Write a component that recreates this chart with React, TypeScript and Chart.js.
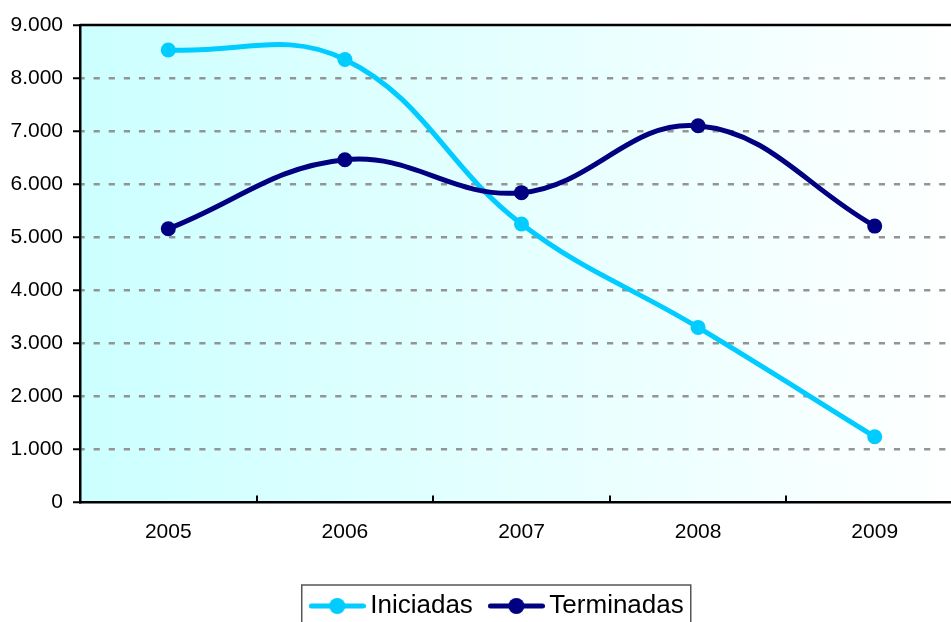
import React, { useEffect, useRef } from "react";
import { Chart, registerables } from "chart.js";

Chart.register(...registerables);

const categories = ["2005", "2006", "2007", "2008", "2009"];
const iniciadas = [8530, 8350, 5250, 3300, 1240];
const terminadas = [5160, 6460, 5840, 7100, 5210];
const seriesNames = ["Iniciadas", "Terminadas"];
const seriesColors = ["#00CCFF", "#000080"];
const yMin = 0;
const yMax = 9000;
const yStep = 1000;

const CANVAS_W = 1001;
const CANVAS_H = 629;

function formatThousands(v: number): string {
  return String(Math.round(v)).replace(/\B(?=(\d{3})+(?!\d))/g, ".");
}

function makeLegendImage(color: string): HTMLCanvasElement {
  const c = document.createElement("canvas");
  c.width = 57;
  c.height = 18;
  const ctx = c.getContext("2d")!;
  ctx.strokeStyle = color;
  ctx.lineWidth = 5;
  ctx.lineCap = "round";
  ctx.beginPath();
  ctx.moveTo(2.5, 9);
  ctx.lineTo(54.5, 9);
  ctx.stroke();
  ctx.fillStyle = color;
  ctx.beginPath();
  ctx.arc(28.5, 9, 8, 0, Math.PI * 2);
  ctx.fill();
  return c;
}

const decorPlugin = {
  id: "decor",
  beforeDraw(chart: any) {
    const { ctx, chartArea } = chart;
    if (!chartArea) return;
    const g = ctx.createLinearGradient(chartArea.left, 0, chartArea.right, 0);
    g.addColorStop(0, "#CCFFFF");
    g.addColorStop(1, "#FFFFFF");
    ctx.save();
    ctx.fillStyle = g;
    ctx.fillRect(chartArea.left, chartArea.top, chartArea.right - chartArea.left, chartArea.bottom - chartArea.top);
    ctx.restore();
  },
  beforeDatasetsDraw(chart: any) {
    const { ctx, chartArea } = chart;
    const xs = chart.scales.x;
    ctx.save();
    ctx.strokeStyle = "#000";
    ctx.lineWidth = 2.5;
    ctx.beginPath();
    ctx.moveTo(chartArea.left, chartArea.top);
    ctx.lineTo(chartArea.right, chartArea.top);
    ctx.stroke();
    ctx.lineWidth = 2;
    for (let i = 0; i < categories.length - 1; i++) {
      const px = Math.round((xs.getPixelForValue(i) + xs.getPixelForValue(i + 1)) / 2);
      ctx.beginPath();
      ctx.moveTo(px, chartArea.bottom - 7);
      ctx.lineTo(px, chartArea.bottom);
      ctx.stroke();
    }
    ctx.restore();
  },
  afterDraw(chart: any) {
    const hb = chart.legend && chart.legend.legendHitBoxes;
    if (!hb || !hb.length) return;
    const { ctx } = chart;
    const first = hb[0];
    const last = hb[hb.length - 1];
    const left = first.left - 8.5 - 7;
    const right = last.left + last.width + 7;
    const top = first.top - 8;
    ctx.save();
    ctx.strokeStyle = "#555";
    ctx.lineWidth = 1.5;
    ctx.strokeRect(left, top, right - left, chart.height + 20 - top);
    ctx.restore();
  },
};

export default function App() {
  const canvasRef = useRef<HTMLCanvasElement | null>(null);

  useEffect(() => {
    if (!canvasRef.current) return;
    Chart.defaults.font.family = "'Liberation Sans', Arial, sans-serif";
    const images = seriesColors.map((c) => makeLegendImage(c));
    const chart = new Chart(canvasRef.current, {
      type: "line",
      data: {
        labels: categories,
        datasets: [
          {
            label: seriesNames[0],
            data: iniciadas,
            borderColor: seriesColors[0],
            backgroundColor: seriesColors[0],
            pointBackgroundColor: seriesColors[0],
            pointBorderWidth: 0,
            pointRadius: 7.5,
            borderWidth: 5,
            tension: 0.4,
            fill: false,
            order: 1,
          },
          {
            label: seriesNames[1],
            data: terminadas,
            borderColor: seriesColors[1],
            backgroundColor: seriesColors[1],
            pointBackgroundColor: seriesColors[1],
            pointBorderWidth: 0,
            pointRadius: 7.5,
            borderWidth: 5,
            tension: 0.4,
            fill: false,
            order: 0,
          },
        ],
      },
      options: {
        responsive: false,
        animation: false,
        layout: { padding: { top: 25, left: 0, right: 0, bottom: 0 } },
        scales: {
          x: {
            type: "category",
            offset: true,
            afterFit: (s: any) => {
              s.height = 67;
            },
            grid: { display: false, drawTicks: false },
            border: { display: true, color: "#000", width: 2.5 },
            ticks: {
              color: "#000",
              font: { size: 21 },
              padding: 17,
              maxRotation: 0,
              autoSkip: false,
            },
          },
          y: {
            min: yMin,
            max: yMax,
            afterFit: (s: any) => {
              s.width = 80;
            },
            ticks: {
              stepSize: yStep,
              padding: 10,
              color: "#000",
              font: { size: 21 },
              callback: (v: any) => formatThousands(Number(v)),
            },
            grid: {
              color: (ctx: any) =>
                ctx.tick && (ctx.tick.value === yMin || ctx.tick.value === yMax)
                  ? "rgba(0,0,0,0)"
                  : "#949494",
              lineWidth: 2.5,
              tickLength: 7,
              tickColor: "#000",
              tickWidth: 2,
              tickBorderDash: [],
            },
            border: { display: true, color: "#000", width: 2.5, dash: [6.2, 8.9], dashOffset: 3 },
          },
          y2: {
            position: "right",
            display: true,
            afterFit: (s: any) => {
              s.width = 38;
            },
            grid: { display: false, drawTicks: false },
            border: { display: false },
            ticks: { display: false },
          },
        },
        plugins: {
          tooltip: { enabled: false },
          legend: {
            display: true,
            position: "bottom",
            labels: {
              usePointStyle: true,
              pointStyleWidth: 40,
              padding: 23.5,
              color: "#000",
              font: { size: 26 },
              generateLabels: (ch: any) =>
                ch.data.datasets.map((ds: any, i: number) => ({
                  text: ds.label,
                  pointStyle: images[i],
                  fillStyle: seriesColors[i],
                  strokeStyle: seriesColors[i],
                  lineWidth: 0,
                  hidden: false,
                  datasetIndex: i,
                  fontColor: "#000",
                })),
            },
          },
        },
      } as any,
      plugins: [decorPlugin],
    });
    return () => {
      chart.destroy();
    };
  }, []);

  return (
    <div
      style={{
        position: "fixed",
        left: 0,
        top: 0,
        width: 951,
        height: 622,
        overflow: "hidden",
        background: "#fff",
      }}
    >
      <canvas
        ref={canvasRef}
        width={CANVAS_W}
        height={CANVAS_H}
        style={{ width: CANVAS_W, height: CANVAS_H, display: "block" }}
      />
    </div>
  );
}
